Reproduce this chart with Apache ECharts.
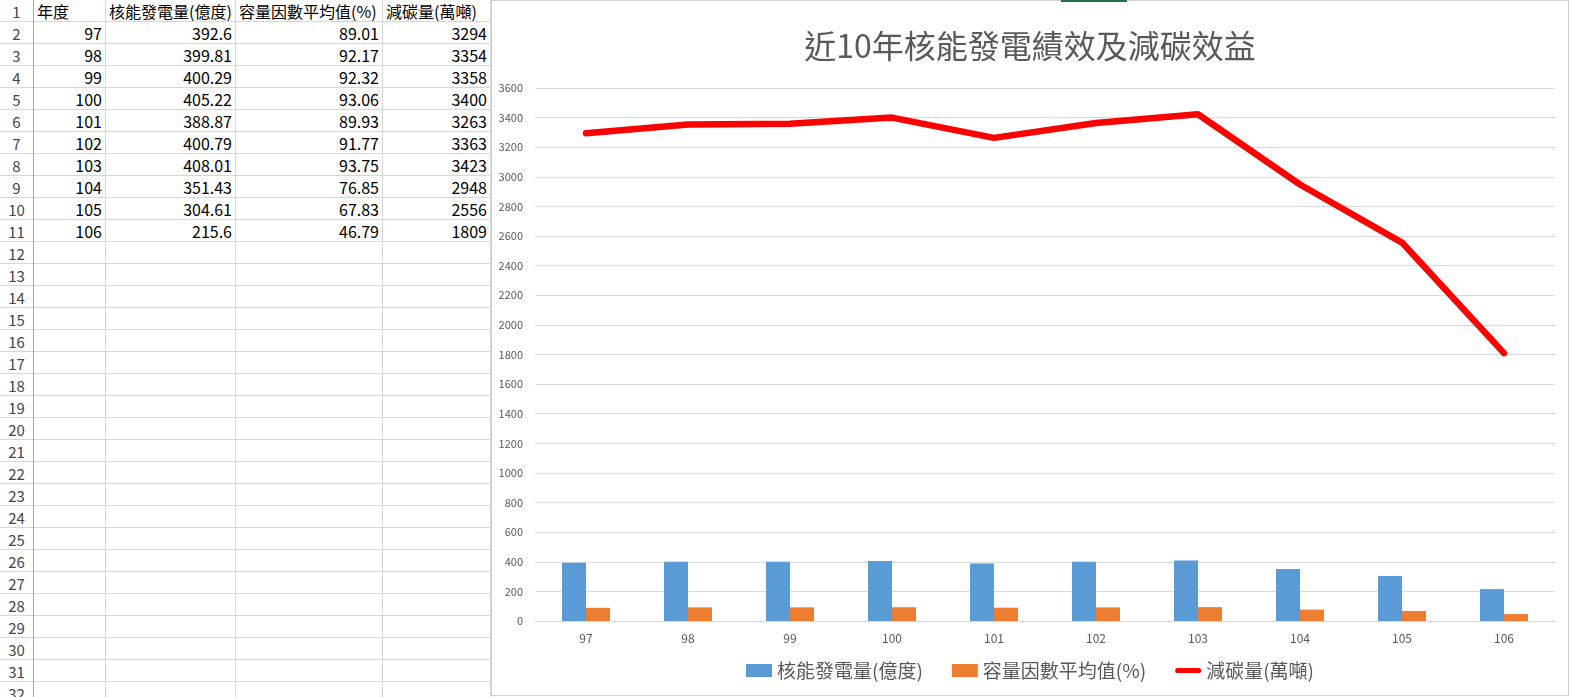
<!DOCTYPE html>
<html>
<head>
<meta charset="utf-8">
<script src="https://cdn.jsdelivr.net/npm/echarts@6/dist/echarts.min.js"></script>
<style>
  html, body { margin: 0; padding: 0; background: #fff; }
  body { width: 1570px; height: 697px; position: relative; overflow: hidden;
         font-family: "Noto Sans CJK TC", "Noto Sans", sans-serif; }
  #sheet { position: absolute; left: 0; top: 0; width: 491px; height: 697px; }
  .hline { position: absolute; left: 0; width: 490px; height: 1px; background: #d6d6d6; }
  .vline { position: absolute; top: 0; width: 1px; height: 697px; background: #d6d6d6; }
  .cell { position: absolute; height: 21px; line-height: 23px; font-size: 16px; color: #000;
          white-space: nowrap; overflow: hidden; box-sizing: border-box; }
  .rownum { color: #444; text-align: center; font-size: 15px; }
  .num { text-align: right; padding-right: 3px; }
  .txt { text-align: left; padding-left: 3px; }
  #chart-box { position: absolute; left: 491px; top: 0; width: 1076px; height: 694px;
               border: 1px solid #d0d0d0; background: #fff; }
  #chart { width: 1076px; height: 694px; }
  #tab-mark { position: absolute; left: 1061px; top: 0; width: 66px; height: 2px; background: #217346; }
</style>
</head>
<body>
<div id="sheet"></div>
<div id="chart-box"><div id="chart"></div></div>
<div id="tab-mark"></div>
<script>
// data
var years = ['97', '98', '99', '100', '101', '102', '103', '104', '105', '106'];
var power = [392.6, 399.81, 400.29, 405.22, 388.87, 400.79, 408.01, 351.43, 304.61, 215.6];
var capacity = [89.01, 92.17, 92.32, 93.06, 89.93, 91.77, 93.75, 76.85, 67.83, 46.79];
var carbon = [3294, 3354, 3358, 3400, 3263, 3363, 3423, 2948, 2556, 1809];
var headers = ['年度', '核能發電量(億度)', '容量因數平均值(%)', '減碳量(萬噸)'];
var seriesNames = ['核能發電量(億度)', '容量因數平均值(%)', '減碳量(萬噸)'];

// spreadsheet on the left
var colX = [0, 33, 105, 235, 382, 490];
var rowH = 22;
var sheet = document.getElementById('sheet');

function addCell(text, left, width, top, cls) {
    var d = document.createElement('div');
    d.className = 'cell ' + cls;
    d.style.left = left + 'px';
    d.style.width = width + 'px';
    d.style.top = top + 'px';
    d.textContent = text;
    sheet.appendChild(d);
}

for (var r = 0; r < 32; r++) {
    var y = r * rowH;
    addCell(String(r + 1), 0, 33, y, 'rownum');
    var line = document.createElement('div');
    line.className = 'hline';
    line.style.top = (y + rowH - 1) + 'px';
    sheet.appendChild(line);
}
for (var c = 1; c < colX.length; c++) {
    var v = document.createElement('div');
    v.className = 'vline';
    v.style.left = colX[c] + 'px';
    if (c == 1) v.style.background = '#a6a6a6';
    sheet.appendChild(v);
}
for (var h = 0; h < headers.length; h++) {
    addCell(headers[h], colX[h + 1] + 1, colX[h + 2] - colX[h + 1] - 1, 0, 'txt');
}
for (var i = 0; i < years.length; i++) {
    var rowVals = [years[i], power[i], capacity[i], carbon[i]];
    for (var k = 0; k < rowVals.length; k++) {
        addCell(String(rowVals[k]), colX[k + 1] + 1, colX[k + 2] - colX[k + 1] - 1, (i + 1) * rowH, 'num');
    }
}

// chart on the right
var chartDom = document.getElementById('chart');
var chart = echarts.init(chartDom, null, { renderer: 'canvas' });
var font = '"Noto Sans CJK TC", "Noto Sans", sans-serif';

var option = {
    animation: false,
    textStyle: { fontFamily: font },
    title: {
        text: '近10年核能發電績效及減碳效益',
        left: 'center',
        top: 24,
        textStyle: { fontSize: 32, fontWeight: 'normal', color: '#595959', fontFamily: font }
    },
    legend: {
        left: 'center',
        top: 655,
        itemWidth: 26,
        itemHeight: 13,
        itemGap: 29,
        textStyle: { fontSize: 19, color: '#595959', fontFamily: font },
        data: [
            { name: seriesNames[0], icon: 'rect' },
            { name: seriesNames[1], icon: 'rect' },
            { name: seriesNames[2], icon: 'path://M3,4.5 L23,4.5 A2.5,2.5 0 0 1 23,9.5 L3,9.5 A2.5,2.5 0 0 1 3,4.5 Z' }
        ]
    },
    grid: { left: 43, right: 13, top: 87, bottom: 74, containLabel: false },
    xAxis: {
        type: 'category',
        data: years,
        axisLine: { lineStyle: { color: '#d9d9d9', width: 1 } },
        axisTick: { show: false },
        axisLabel: { fontSize: 12, color: '#595959', margin: 11 }
    },
    yAxis: {
        type: 'value',
        min: 0,
        max: 3600,
        interval: 200,
        axisLine: { show: false },
        axisTick: { show: false },
        axisLabel: {
            fontSize: 11,
            color: '#595959',
            margin: 12,
            formatter: function (val) { return String(val); }
        },
        splitLine: { lineStyle: { color: '#d9d9d9', width: 1 } }
    },
    series: [
        {
            name: seriesNames[0],
            type: 'bar',
            data: power,
            barWidth: 24,
            barGap: '0%',
            itemStyle: { color: '#5b9bd5' }
        },
        {
            name: seriesNames[1],
            type: 'bar',
            data: capacity,
            barWidth: 24,
            itemStyle: { color: '#ed7d31' }
        },
        {
            name: seriesNames[2],
            type: 'line',
            data: carbon,
            symbol: 'none',
            itemStyle: { color: '#ff0000' },
            lineStyle: { color: '#ff0000', width: 6.5, cap: 'round', join: 'round' }
        }
    ]
};

option && chart.setOption(option);
</script>
</body>
</html>
